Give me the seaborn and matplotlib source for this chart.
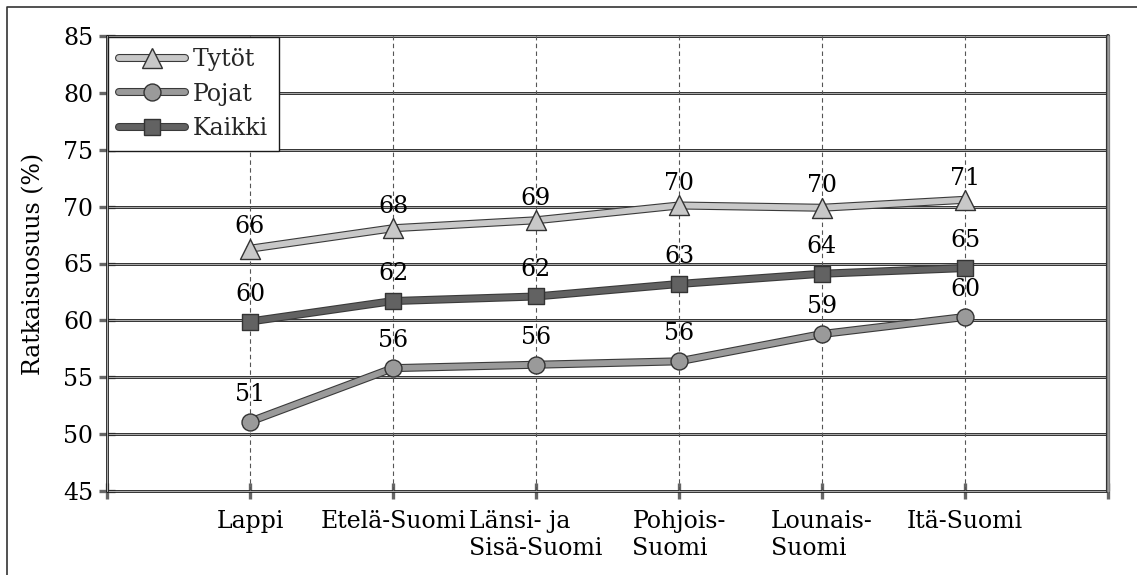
import numpy as np
import pandas as pd
import seaborn as sns
import matplotlib.pyplot as plt
import matplotlib.patheffects as pe
from matplotlib.lines import Line2D
from matplotlib.legend_handler import HandlerTuple

# Regions on the x axis
regions = ["Lappi", "Etelä-Suomi", "Länsi- ja\nSisä-Suomi",
           "Pohjois-\nSuomi", "Lounais-\nSuomi", "Itä-Suomi"]

# Share of correct answers (%) per group
tytot = [66.3, 68.1, 68.8, 70.1, 69.9, 70.6]
pojat = [51.1, 55.8, 56.1, 56.4, 58.8, 60.3]
kaikki = [59.9, 61.7, 62.1, 63.2, 64.1, 64.6]

series_names = ["Tytöt", "Pojat", "Kaikki"]
y_ticks = [45, 50, 55, 60, 65, 70, 75, 80, 85]

sns.set_theme(style="white")
plt.rcParams["font.family"] = ["DejaVu Serif"]

W, H = 1137, 575
FS = 17
fig = plt.figure(figsize=(W / 100, H / 100), dpi=100)
ax = fig.add_axes([107 / W, 1 - 491 / H, (1108 - 107) / W, (491 - 36) / H])
ax.set_facecolor("white")

x_pos = np.arange(len(regions))
df = pd.DataFrame({
    "x": np.tile(x_pos, 3),
    "value": tytot + pojat + kaikki,
    "series": np.repeat(series_names, len(regions)),
})

ax.set_xlim(-1, 6)
ax.set_ylim(45, 85)

# Double-ruled horizontal grid lines
for v in y_ticks:
    ax.axhline(v, color="#1a1a1a", lw=2.0, zorder=1, clip_on=False)
    ax.axhline(v, color="#a8a8a8", lw=0.8, zorder=1.1, clip_on=False)

# Dashed guides at each region
for i in x_pos:
    ax.axvline(i, color="#555555", lw=0.8, ls=(0, (4, 3)), zorder=1.2)

# Left and right frame lines
ax.axvline(-1, color="#1a1a1a", lw=2.0, zorder=1.3, clip_on=False)
ax.axvline(-1, color="#a8a8a8", lw=0.8, zorder=1.4, clip_on=False)
ax.axvline(6, color="#333333", lw=3.0, zorder=1.3, clip_on=False)
ax.axvline(6, color="#9a9a9a", lw=1.8, zorder=1.4, clip_on=False)

styles = {
    "Tytöt": dict(color="#c8c8c8", marker="^", ms=14.4, off=11),
    "Pojat": dict(color="#9a9a9a", marker="o", ms=12.2, off=15),
    "Kaikki": dict(color="#626262", marker="s", ms=12.0, off=15),
}
line_fx = [pe.Stroke(linewidth=5.8, foreground="#3a3a3a", capstyle="round"), pe.Normal()]

for name in series_names:
    st = styles[name]
    sub = df[df["series"] == name]
    sns.lineplot(data=sub, x="x", y="value", color=st["color"], lw=4.2,
                 ax=ax, zorder=3, legend=False)
    ax.lines[-1].set_path_effects(line_fx)
    ax.lines[-1].set_solid_capstyle("round")
    sns.scatterplot(data=sub, x="x", y="value", color=st["color"],
                    marker=st["marker"], s=st["ms"] ** 2, edgecolor="#333333",
                    linewidth=1.0, ax=ax, zorder=4, legend=False)
    for xv, yv in zip(sub["x"], sub["value"]):
        ax.annotate(f"{yv:.0f}", (xv, yv), xytext=(0, st["off"]),
                    textcoords="offset points", ha="center", va="baseline",
                    fontsize=FS, color="black", zorder=5)

# Axes, ticks and labels
for s in ax.spines.values():
    s.set_visible(False)
ax.set_xticks(list(x_pos) + [-1, 6])
ax.set_xticklabels(regions + ["", ""], fontsize=FS, multialignment="left", color="black")
ax.set_yticks(y_ticks)
ax.set_yticklabels([str(v) for v in y_ticks], fontsize=FS, color="black")
ax.tick_params(axis="x", direction="inout", length=12, width=2.4, color="#666666",
               pad=8, bottom=True)
ax.tick_params(axis="y", direction="inout", length=12, width=2.4, color="#666666",
               pad=4, left=True)
ax.set_xlabel("")
ax.set_ylabel("Ratkaisuosuus (%)", fontsize=FS, color="black")
ax.yaxis.set_label_coords(-0.062, 0.5)

# Legend
handles = []
for name in series_names:
    st = styles[name]
    ln = Line2D([], [], color=st["color"], lw=4.2, solid_capstyle="round",
                path_effects=line_fx)
    mk = Line2D([], [], ls="none", marker=st["marker"], ms=st["ms"],
                mfc=st["color"], mec="#333333", mew=1.0)
    handles.append((ln, mk))
leg = ax.legend(handles, series_names, handler_map={tuple: HandlerTuple(ndivide=1)},
                loc="upper left", bbox_to_anchor=(0, 1), borderaxespad=0.05,
                fontsize=FS, handlelength=2.8, handletextpad=0.35,
                labelspacing=0.5, borderpad=0.45, fancybox=False, framealpha=1)
leg.get_frame().set_edgecolor("#1a1a1a")
leg.get_frame().set_linewidth(1.0)
leg.set_zorder(6)

# Outer frame of the figure
fig.add_artist(Line2D([7 / W, 7 / W, 1], [0, 1 - 7 / H, 1 - 7 / H],
                      transform=fig.transFigure, color="#333333", lw=1.2))

fig.savefig("out.png", dpi=100, facecolor="white")
